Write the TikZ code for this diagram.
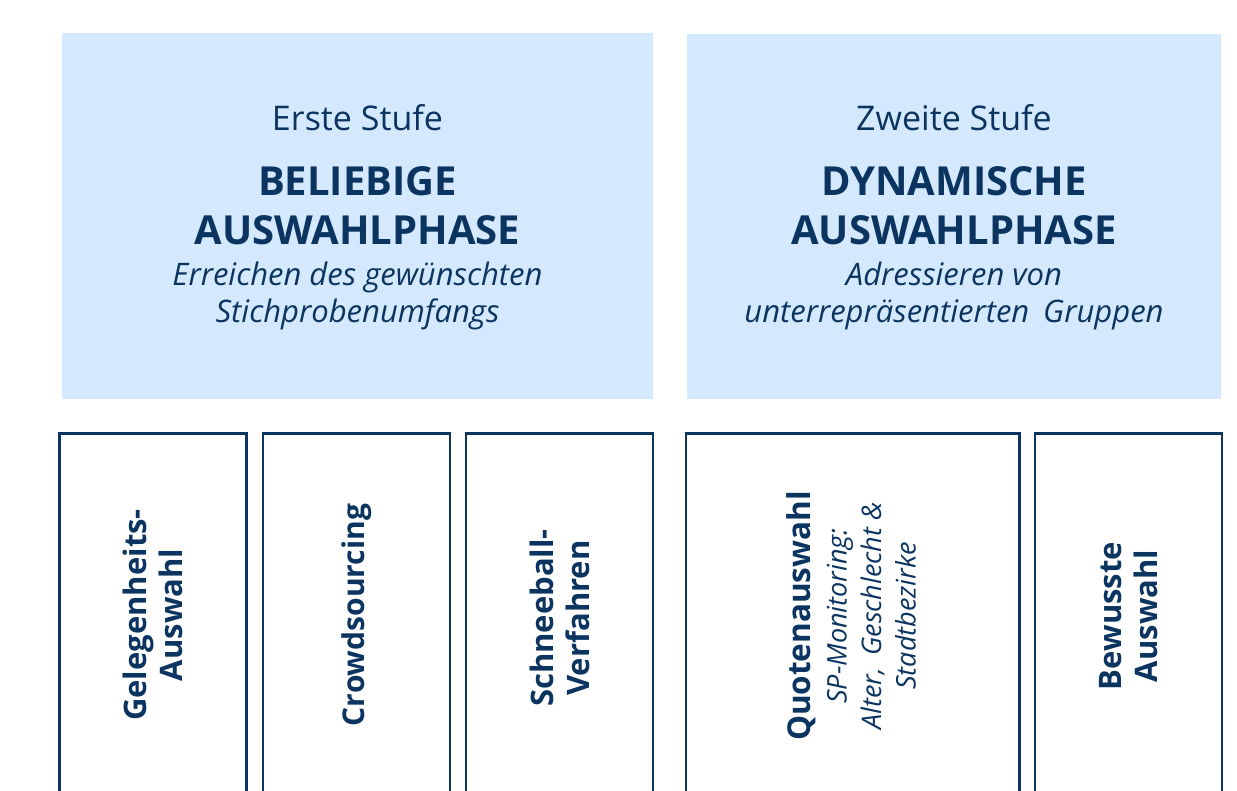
\documentclass[tikz,border=0pt]{standalone}
\usepackage{fontspec}
\setmainfont{Open Sans}
\definecolor{navy}{RGB}{11,52,96}
\definecolor{phasebg}{RGB}{212,233,253}
\tikzset{
  phase/.style={fill=phasebg, draw=none},
  method/.style={draw=navy, line width=2.6pt, fill=white},
  label/.style={text=navy, inner sep=0pt, align=center},
  vlabel/.style={label, rotate=90, anchor=center},
}
\newcommand{\fs}[2]{\fontsize{#1}{#2}\selectfont}
\begin{document}
\begin{tikzpicture}[x=1pt,y=-1pt]
\useasboundingbox (0,0) rectangle (1237,791);
\clip (0,0) rectangle (1237,791);
\fill[white] (0,0) rectangle (1237,791);

% phase panels
\node[phase, minimum width=591pt, minimum height=366pt, inner sep=0pt] (p1) at (357.5,216) {};
\node[phase, minimum width=534pt, minimum height=365pt, inner sep=0pt] (p2) at (954,216.5) {};

% panel texts (base anchor = baseline of the last line)
\node[label, anchor=base, font=\fs{34}{40}] (s1) at (357.5,131) {Erste Stufe};
\node[label, anchor=base, font=\fs{40}{49}\bfseries] (h1) at (357.5,245) {BELIEBIGE\\AUSWAHLPHASE};
\node[label, anchor=base, font=\fs{31}{37}\itshape] (d1) at (357.5,323) {Erreichen des gewünschten\\Stichprobenumfangs};

\node[label, anchor=base, font=\fs{34}{40}] (s2) at (954,131) {Zweite Stufe};
\node[label, anchor=base, font=\fs{40}{49}\bfseries] (h2) at (954,245) {DYNAMISCHE\\AUSWAHLPHASE};
\node[label, anchor=base, font=\fs{31}{37}\itshape] (d2) at (954,323) {Adressieren von\\unterrepräsentierten\hspace{0.45em}Gruppen};

% method columns (running past the lower edge)
\draw[method] (59.5,433.5) rectangle (246.5,820);
\draw[method] (263,433.5) rectangle (450,820);
\draw[method] (466,433.5) rectangle (653,820);
\draw[method] (686,433.5) rectangle (1019.5,820);
\draw[method] (1035,433.5) rectangle (1222,820);

% method labels
\node[vlabel, font=\fs{31}{36}\bfseries] (m1) at (153,615) {Gelegenheits-\\Auswahl};
\node[vlabel, font=\fs{30}{36}\bfseries] (m2) at (356.5,615) {Crowdsourcing};
\node[vlabel, font=\fs{31}{36}\bfseries] (m3) at (559.5,618) {Schneeball-\\Verfahren};
\node[vlabel, font=\fs{27}{34.5}\itshape] (m4) at (851,616) {{\fs{31.5}{34.5}\upshape\bfseries Quotenauswahl}\\[2pt]
  SP-Monitoring:\\
  Alter,\hspace{0.45em}Geschlecht \&\\
  Stadtbezirke};
\node[vlabel, font=\fs{31}{36}\bfseries] (m5) at (1128.5,616) {Bewusste\\Auswahl};
\end{tikzpicture}
\end{document}
